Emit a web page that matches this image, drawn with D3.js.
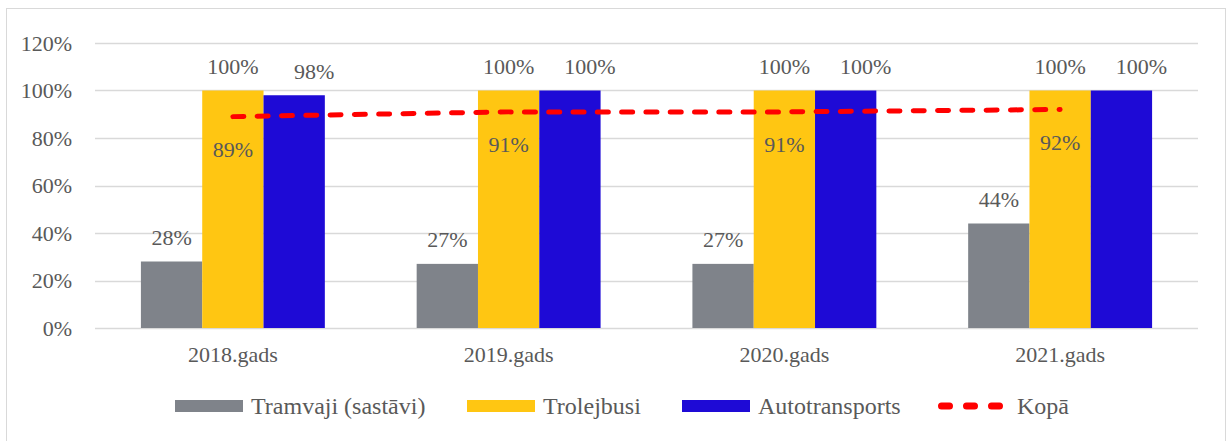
<!DOCTYPE html>
<html>
<head>
<meta charset="utf-8">
<script src="https://cdn.jsdelivr.net/npm/d3@7"></script>
<style>
  body { margin: 0; background: #fff; }
  text { font-family: "Liberation Serif", "Times New Roman", serif; fill: #595959; }
</style>
</head>
<body>
<div id="chart"></div>
<script>
var categories = ["2018.gads", "2019.gads", "2020.gads", "2021.gads"];
var tramvaji = [28, 27, 27, 44];
var trolejbusi = [100, 100, 100, 100];
var autotransports = [98, 100, 100, 100];
var kopa = [89, 91, 91, 92];
var yTicks = [0, 20, 40, 60, 80, 100, 120];

var seriesNames = ["Tramvaji (sastāvi)", "Trolejbusi", "Autotransports"];
var seriesColors = ["#7f838a", "#ffc612", "#1e0ad6"];
var barSeries = [tramvaji, trolejbusi, autotransports];

var W = 1227, H = 441;
var margin = {top: 43, right: 29, bottom: 113, left: 95},
    width = W - margin.left - margin.right,
    height = H - margin.top - margin.bottom;

var root = d3.select("#chart").append("svg")
  .attr("width", W)
  .attr("height", H);

// outer frame
root.append("rect")
  .attr("x", 6.5).attr("y", 8.5)
  .attr("width", 1219).attr("height", 440)
  .attr("fill", "none")
  .attr("stroke", "#d9d9d9")
  .attr("stroke-width", 1);

var svg = root.append("g")
  .attr("transform", "translate(" + margin.left + "," + margin.top + ")");

var x0 = d3.scaleBand()
  .domain(categories)
  .range([0, width])
  .paddingInner(0.333)
  .paddingOuter(0.1665);

var x1 = d3.scaleBand()
  .domain(d3.range(barSeries.length))
  .range([0, x0.bandwidth()]);

var y = d3.scaleLinear()
  .domain([0, 120])
  .range([height, 0]);

// gridlines
svg.append("g")
  .selectAll("line")
  .data(yTicks)
  .enter()
  .append("line")
    .attr("x1", 0)
    .attr("x2", width)
    .attr("y1", function (d) { return Math.round(y(d)) + 0.5; })
    .attr("y2", function (d) { return Math.round(y(d)) + 0.5; })
    .attr("stroke", "#d9d9d9")
    .attr("stroke-width", function (d) { return d === 0 ? 1.5 : 1.3; });

// y axis labels
var yAxis = svg.append("g")
  .attr("transform", "translate(-20,0)")
  .call(d3.axisLeft(y).tickValues(yTicks).tickSize(0).tickFormat(function (d) { return d + "%"; }));
yAxis.select(".domain").remove();
yAxis.selectAll("text")
  .style("font-size", "22px")
  .style("font-family", "Liberation Serif")
  .attr("fill", "#595959");

// x axis labels
var xAxis = svg.append("g")
  .attr("transform", "translate(0," + height + ")")
  .call(d3.axisBottom(x0).tickSize(0).tickPadding(18));
xAxis.select(".domain").remove();
xAxis.selectAll("text")
  .style("font-size", "22px")
  .style("font-family", "Liberation Serif")
  .attr("fill", "#595959");

// bars
var groups = svg.selectAll(".grp")
  .data(categories)
  .enter()
  .append("g")
  .attr("class", "grp")
  .attr("transform", function (d) { return "translate(" + x0(d) + ",0)"; });

// blue labels sit a bit to the right in the original
var labelShift = [0, 0, 20];

barSeries.forEach(function (vals, s) {
  groups.append("rect")
    .attr("x", x1(s))
    .attr("width", x1.bandwidth())
    .attr("y", function (d, i) { return y(vals[i]); })
    .attr("height", function (d, i) { return height - y(vals[i]); })
    .attr("fill", seriesColors[s]);

  groups.append("text")
    .attr("x", x1(s) + x1.bandwidth() / 2 + labelShift[s])
    .attr("y", function (d, i) { return y(vals[i]) - 16.5; })
    .attr("text-anchor", "middle")
    .style("font-size", "22px")
    .text(function (d, i) { return vals[i] + "%"; });
});

// total line
var cx = function (d, i) { return x0(categories[i]) + x0.bandwidth() / 2; };
var line = d3.line()
  .x(function (d, i) { return cx(d, i); })
  .y(function (d) { return y(d); });

svg.append("path")
  .datum(kopa)
  .attr("d", line)
  .attr("fill", "none")
  .attr("stroke", "#ff0000")
  .attr("stroke-width", 5)
  .attr("stroke-linecap", "round")
  .attr("stroke-dasharray", "11,13.3");

svg.selectAll(".kopaLabel")
  .data(kopa)
  .enter()
  .append("text")
    .attr("x", function (d, i) { return cx(d, i); })
    .attr("y", function (d) { return y(d) + 40; })
    .attr("text-anchor", "middle")
    .style("font-size", "22px")
    .text(function (d) { return d + "%"; });

// legend
var legendItems = [
  {name: seriesNames[0], color: seriesColors[0], x: 175, type: "bar"},
  {name: seriesNames[1], color: seriesColors[1], x: 467, type: "bar"},
  {name: seriesNames[2], color: seriesColors[2], x: 682, type: "bar"},
  {name: "Kopā", color: "#ff0000", x: 938, type: "line"}
];
var ly = 406;
var leg = root.append("g");
legendItems.forEach(function (it) {
  if (it.type === "bar") {
    leg.append("rect")
      .attr("x", it.x).attr("y", ly - 6)
      .attr("width", 68).attr("height", 12)
      .attr("fill", it.color);
  } else {
    leg.append("line")
      .attr("x1", it.x + 3.5).attr("x2", it.x + 61.5)
      .attr("y1", ly).attr("y2", ly)
      .attr("stroke", it.color)
      .attr("stroke-width", 7)
      .attr("stroke-linecap", "round")
      .attr("stroke-dasharray", "8,17");
  }
  leg.append("text")
    .attr("x", it.x + (it.type === "bar" ? 76 : 79))
    .attr("y", ly + 8)
    .style("font-size", "24px")
    .text(it.name);
});
</script>
</body>
</html>
